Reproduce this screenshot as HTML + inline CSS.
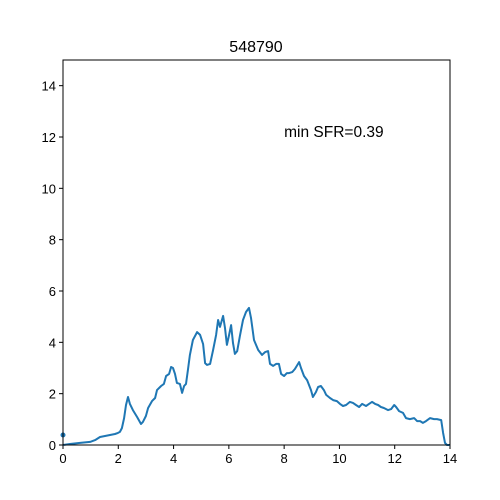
<!DOCTYPE html>
<html><head><meta charset="utf-8"><style>
html,body{margin:0;padding:0;background:#fff;}
svg{display:block;font-family:"Liberation Sans","DejaVu Sans",sans-serif;}
</style></head><body>
<svg id="chart" width="500" height="500">
<rect width="500" height="500" fill="#fff"/>
<text x="256" y="52" text-anchor="middle" font-size="16">548790</text>
<g id="ticks"></g>
<g id="plot"></g>
<rect x="63" y="60" width="387" height="385" fill="none" stroke="#000" stroke-width="1"/>
<text id="annot" font-size="15.5">min SFR=0.39</text>
</svg>
<script>
const xTicks=[0,2,4,6,8,10,12,14];
const yTicks=[0,2,4,6,8,10,12,14];
const xs=[0,0.25,0.62,0.98,1.16,1.34,1.52,1.70,1.88,1.99,2.06,2.13,2.21,2.28,2.35,2.42,2.53,2.68,2.82,2.89,3.00,3.08,3.22,3.33,3.40,3.55,3.65,3.73,3.84,3.91,3.98,4.05,4.12,4.23,4.31,4.38,4.45,4.52,4.59,4.70,4.85,4.96,5.07,5.14,5.21,5.32,5.43,5.54,5.61,5.68,5.79,5.86,5.93,6.01,6.08,6.15,6.22,6.30,6.40,6.51,6.62,6.73,6.80,6.91,7.06,7.20,7.31,7.42,7.49,7.60,7.71,7.81,7.89,8.00,8.10,8.18,8.29,8.39,8.54,8.61,8.72,8.83,8.97,9.04,9.15,9.23,9.33,9.44,9.52,9.66,9.77,9.91,10.02,10.13,10.24,10.38,10.49,10.60,10.71,10.82,10.96,11.07,11.18,11.29,11.40,11.50,11.61,11.76,11.87,11.98,12.05,12.16,12.30,12.41,12.55,12.70,12.81,12.92,13.02,13.13,13.28,13.42,13.53,13.68,13.75,13.82,13.89,14];
const sfr=[0,0.04,0.08,0.12,0.19,0.31,0.35,0.39,0.43,0.47,0.51,0.66,1.05,1.56,1.87,1.60,1.36,1.09,0.82,0.90,1.13,1.44,1.71,1.83,2.14,2.30,2.38,2.69,2.77,3.04,3.00,2.77,2.42,2.38,2.03,2.30,2.38,2.92,3.51,4.09,4.40,4.29,3.93,3.19,3.12,3.16,3.70,4.29,4.87,4.60,5.03,4.56,3.90,4.29,4.67,3.97,3.55,3.66,4.25,4.87,5.18,5.34,4.95,4.09,3.70,3.51,3.62,3.66,3.16,3.08,3.16,3.16,2.77,2.69,2.80,2.80,2.84,2.96,3.23,3.00,2.69,2.53,2.14,1.87,2.06,2.26,2.30,2.14,1.95,1.83,1.75,1.71,1.60,1.52,1.56,1.68,1.64,1.56,1.48,1.60,1.52,1.60,1.68,1.60,1.56,1.48,1.44,1.36,1.40,1.56,1.48,1.32,1.25,1.05,1.01,1.05,0.93,0.93,0.86,0.93,1.05,1.01,1.01,0.97,0.47,0.08,0,0];
const minPoint=[0,0.39];
const annotPos=[8,12];
const X0=63,X1=450,Y0=445,Y1=60;
const sx=v=>X0+(v-0)/(14-0)*(X1-X0);
const sy=v=>Y0-(v-0)/(15-0)*(Y0-Y1);
const NS="http://www.w3.org/2000/svg";
const tg=document.getElementById('ticks'), pg=document.getElementById('plot');
xTicks.forEach(t=>{
  const l=document.createElementNS(NS,'line');
  l.setAttribute('x1',sx(t));l.setAttribute('x2',sx(t));l.setAttribute('y1',Y0);l.setAttribute('y2',Y0+4);l.setAttribute('stroke','#000');
  
  
  tg.appendChild(l);
  const tx=document.createElementNS(NS,'text');
  tx.setAttribute('x',sx(t));tx.setAttribute('y',Y0+18);tx.setAttribute('text-anchor','middle');tx.setAttribute('font-size','13');
  tx.textContent=t;
  
  
  tg.appendChild(tx);
});
yTicks.forEach(t=>{
  const l=document.createElementNS(NS,'line');
  l.setAttribute('x1',X0-4);l.setAttribute('x2',X0);l.setAttribute('y1',sy(t));l.setAttribute('y2',sy(t));l.setAttribute('stroke','#000');
  
  
  tg.appendChild(l);
  const tx=document.createElementNS(NS,'text');
  tx.setAttribute('x',X0-7);tx.setAttribute('y',sy(t)+5);tx.setAttribute('text-anchor','end');tx.setAttribute('font-size','13');
  tx.textContent=t;
  
  
  tg.appendChild(tx);
});
const p=document.createElementNS(NS,'polyline');
p.setAttribute('points',xs.map((x,i)=>sx(x).toFixed(1)+','+sy(sfr[i]).toFixed(1)).join(' '));
p.setAttribute('fill','none');p.setAttribute('stroke','#1f77b4');p.setAttribute('stroke-width','2');p.setAttribute('stroke-linejoin','round');


pg.appendChild(p);
const c=document.createElementNS(NS,'circle');
c.setAttribute('cx',sx(minPoint[0]));c.setAttribute('cy',sy(minPoint[1]));c.setAttribute('r','2.5');c.setAttribute('fill','#1f77b4');


pg.appendChild(c);
const a=document.getElementById('annot');
a.setAttribute('x',sx(annotPos[0]));a.setAttribute('y',sy(annotPos[1]));
</script>
</body></html>
